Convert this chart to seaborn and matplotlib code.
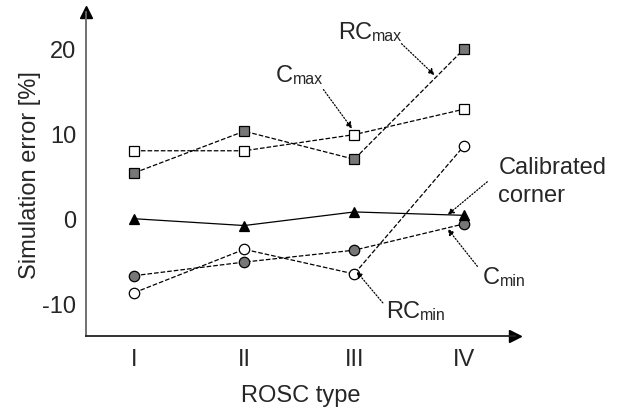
import matplotlib
matplotlib.use('Agg')
import matplotlib.pyplot as plt
import seaborn as sns
import pandas as pd

# data
rosc_types = ["I", "II", "III", "IV"]
c_max = [8.0, 8.0, 9.9, 12.9]
rc_max = [5.4, 10.3, 7.0, 20.0]
calibrated = [0.0, -0.8, 0.8, 0.4]
c_min = [-6.7, -5.1, -3.7, -0.6]
rc_min = [-8.7, -3.6, -6.5, 8.6]
y_ticks = [-10, 0, 10, 20]

sns.set_theme(style="white")
plt.rcParams['font.family'] = ['Liberation Sans', 'DejaVu Sans']
plt.rcParams['axes.unicode_minus'] = False

pos = list(range(len(rosc_types)))
df = pd.DataFrame({"pos": pos, "c_max": c_max, "rc_max": rc_max,
                   "calibrated": calibrated, "c_min": c_min, "rc_min": rc_min})

fig = plt.figure(figsize=(6.18, 4.14), dpi=100)
ax = fig.add_axes([0.139, 0.186, 0.694, 0.783])

gray = "#777777"
styles = {
    "c_max": dict(marker="s", mfc="white", ls="--"),
    "rc_max": dict(marker="s", mfc=gray, ls="--"),
    "c_min": dict(marker="o", mfc=gray, ls="--"),
    "rc_min": dict(marker="o", mfc="white", ls="--"),
    "calibrated": dict(marker="^", mfc="black", ls="-"),
}
for col, st in styles.items():
    sns.lineplot(data=df, x="pos", y=col, ax=ax, color="black", lw=0.9,
                 linestyle=st["ls"], marker=st["marker"], markersize=7.5,
                 markerfacecolor=st["mfc"], markeredgecolor="black",
                 markeredgewidth=0.9, dashes=False if st["ls"] == "-" else (5, 3))

ax.set_xlim(-0.44, 3.46)
ax.set_ylim(-13.8, 24.35)
ax.set_xticks(pos)
ax.set_xticklabels(rosc_types)
ax.set_yticks(y_ticks)
ax.set_xlabel("ROSC type", fontsize=17, labelpad=10)
ax.set_ylabel("Simulation error [%]", fontsize=17, labelpad=1)
ax.tick_params(axis="x", direction="in", length=5, width=1, labelsize=17, pad=9, color="#333333")
ax.tick_params(axis="y", direction="in", length=6, width=1, labelsize=17, pad=7, color="#555555")
for s in ["top", "right"]:
    ax.spines[s].set_visible(False)
ax.spines["left"].set_color("#666666")
ax.spines["bottom"].set_color("#222222")
ax.spines["left"].set_linewidth(1.3)
ax.spines["bottom"].set_linewidth(1.3)

# axis arrows
ax.plot(0, 1, marker="^", color="black", ms=9, transform=ax.transAxes, clip_on=False)
ax.plot(1, 0, marker=">", color="black", ms=9, transform=ax.transAxes, clip_on=False)

arrow = dict(arrowstyle="-|>", linestyle=(0, (1, 1.5)), color="black", lw=0.9,
             mutation_scale=9, shrinkA=0, shrinkB=0)


def label(main, sub, xy_text, xy_arrow_start, xy_arrow_end):
    t = ax.text(xy_text[0], xy_text[1], main, fontsize=17, ha="left", va="center")
    ax.annotate(sub, xy=(1, 0), xycoords=t, fontsize=11.5, ha="left", va="bottom")
    ax.annotate("", xy=xy_arrow_end, xytext=xy_arrow_start, arrowprops=arrow)


label("RC", "max", (1.85, 22.0), (2.43, 20.6), (2.73, 16.9))
label("C", "max", (1.29, 16.9), (1.72, 15.2), (1.98, 10.6))
label("C", "min", (3.17, -6.9), (3.12, -5.6), (2.85, -1.2))
label("RC", "min", (2.29, -10.8), (2.26, -9.9), (2.02, -6.2))
ax.text(3.31, 4.4, "Calibrated\ncorner", fontsize=17, ha="left", va="center", linespacing=1.35)
ax.annotate("", xy=(2.85, 0.47), xytext=(3.21, 4.35), arrowprops=arrow)

fig.savefig("out.png", dpi=100)
